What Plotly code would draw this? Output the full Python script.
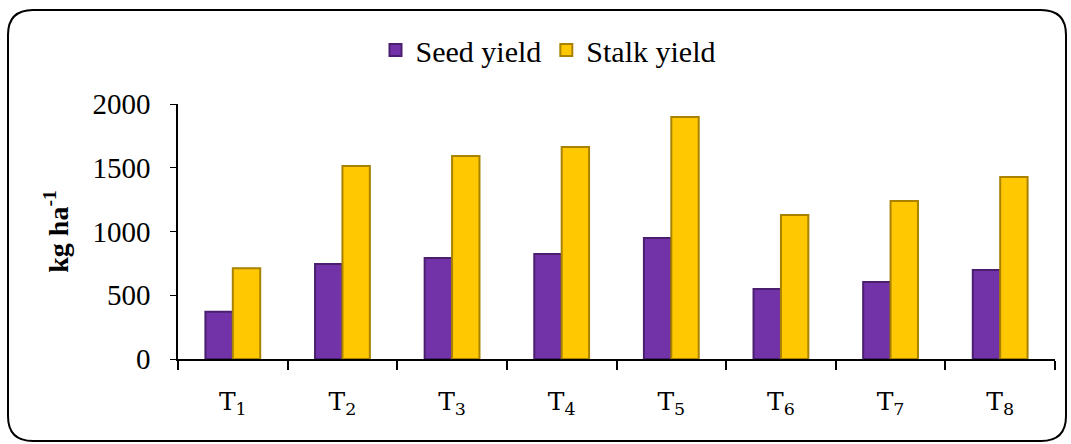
import plotly.graph_objects as go

categories = ["T<sub>1</sub>", "T<sub>2</sub>", "T<sub>3</sub>", "T<sub>4</sub>",
              "T<sub>5</sub>", "T<sub>6</sub>", "T<sub>7</sub>", "T<sub>8</sub>"]
seed_yield = [370, 745, 792, 824, 949, 549, 604, 698]
stalk_yield = [712, 1514, 1592, 1663, 1898, 1129, 1239, 1427]
y_ticks = [0, 500, 1000, 1500, 2000]

W, H = 1071, 444
L, R, T, B = 178, 16, 104, 85
SERIF = "Liberation Serif"

fig = go.Figure()
fig.add_trace(go.Bar(
    x=categories, y=seed_yield, name="Seed yield",
    marker=dict(color="#7232A8", line=dict(color="#4A1F70", width=2)),
))
fig.add_trace(go.Bar(
    x=categories, y=stalk_yield, name="Stalk yield",
    marker=dict(color="#FFC800", line=dict(color="#A88200", width=2)),
))

def px_to_paper_x(px):
    return (px - L) / (W - L - R)

def px_to_paper_y(py):
    return (H - B - py) / (H - T - B)

# rounded border frame
x0, x1 = px_to_paper_x(8), px_to_paper_x(1066)
y0, y1 = px_to_paper_y(441), px_to_paper_y(10)
rx = 25 / (W - L - R)
ry = 25 / (H - T - B)
path = (f"M {x0+rx},{y1} L {x1-rx},{y1} Q {x1},{y1} {x1},{y1-ry} "
        f"L {x1},{y0+ry} Q {x1},{y0} {x1-rx},{y0} L {x0+rx},{y0} "
        f"Q {x0},{y0} {x0},{y0+ry} L {x0},{y1-ry} Q {x0},{y1} {x0+rx},{y1} Z")

fig.update_layout(
    width=W, height=H,
    margin=dict(l=L, r=R, t=T, b=B),
    paper_bgcolor="white", plot_bgcolor="white",
    barmode="group", bargap=0.5, bargroupgap=0.0,
    font=dict(family=SERIF, color="black"),
    legend=dict(orientation="h", x=px_to_paper_x(548), xanchor="center",
                y=px_to_paper_y(50), yanchor="middle",
                font=dict(size=30, family=SERIF, color="black"),
                itemwidth=30, traceorder="normal"),
    shapes=[dict(type="path", path=path, xref="paper", yref="paper",
                 line=dict(color="black", width=2), layer="above")],
    xaxis=dict(type="category", showline=True, linecolor="black", linewidth=2,
               ticks="outside", tickson="boundaries", ticklen=9, tickcolor="black",
               tickwidth=1.5, tickfont=dict(size=25, family="DejaVu Serif"),
               ticklabelstandoff=19, showgrid=False, zeroline=False),
    yaxis=dict(range=[0, 2000], tickvals=y_ticks, showline=True, linecolor="black",
               linewidth=1.5, ticks="outside", ticklen=6, tickcolor="black",
               tickfont=dict(size=29, family=SERIF),
               ticklabelstandoff=14, showgrid=False, zeroline=False,
               title=dict(text="<b>kg ha<sup>-1</sup></b>",
                          font=dict(size=28, family=SERIF), standoff=16)),
)

fig.write_html("out.html", config={"displayModeBar": False},
               post_script="document.body.style.margin='0';document.body.style.overflow='hidden';")
